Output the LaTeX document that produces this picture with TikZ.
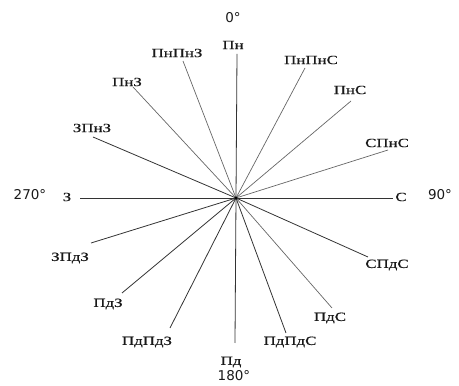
\documentclass[tikz,border=0pt]{standalone}
\usepackage{fontspec}
\newfontfamily\lblfont[FakeStretch=1.35,FakeBold=0.6]{Liberation Serif}
\newfontfamily\degfont{DejaVu Sans}
\begin{document}
\begin{tikzpicture}[x=1pt,y=1pt,
  ray/.style={line width=0.8pt, draw=black!80},
  rayl/.style={line width=0.7pt, draw=black!60},
  lab/.style={font=\lblfont\fontsize{12.5}{12.5}\selectfont, inner sep=0pt, text=black!90},
  num/.style={font=\degfont\fontsize{13.5}{13.5}\selectfont, inner sep=0pt, text=black!90}]
\useasboundingbox (0,0) rectangle (459,386);
\coordinate (c) at (236,188);
% ray ends
\coordinate (eN)   at (237,332);
\coordinate (eNNE) at (305,318);
\coordinate (eNE)  at (351,285);
\coordinate (eENE) at (388,236);
\coordinate (eE)   at (393,188);
\coordinate (eESE) at (368,129);
\coordinate (eSE)  at (332,78);
\coordinate (eSSE) at (286,53);
\coordinate (eS)   at (235,43);
\coordinate (eSSW) at (170,58);
\coordinate (eSW)  at (122,93);
\coordinate (eWSW) at (91,143);
\coordinate (eW)   at (80,188);
\coordinate (eWNW) at (93,249);
\coordinate (eNW)  at (133,299);
\coordinate (eNNW) at (183,325);
% rays
\draw[ray]  (c) -- (eN);
\draw[rayl] (c) -- (eNNE);
\draw[rayl] (c) -- (eNE);
\draw[rayl] (c) -- (eENE);
\draw[ray]  (c) -- (eE);
\draw[ray]  (c) -- (eESE);
\draw[rayl] (c) -- (eSE);
\draw[ray]  (c) -- (eSSE);
\draw[ray]  (c) -- (eS);
\draw[ray]  (c) -- (eSSW);
\draw[ray]  (c) -- (eSW);
\draw[ray]  (c) -- (eWSW);
\draw[ray]  (c) -- (eW);
\draw[ray]  (c) -- (eWNW);
\draw[rayl] (c) -- (eNW);
\draw[rayl] (c) -- (eNNW);
\fill[black] (c) circle (1.5);
% labels
\node[lab] (lN)   at (233,341) {Пн};
\node[lab] (lNNE) at (311,326) {ПнПнС};
\node[lab] (lNE)  at (350,296) {ПнС};
\node[lab] (lENE) at (387,243) {СПнС};
\node[lab] (lE)   at (401,189) {С};
\node[lab] (lESE) at (387,121) {СПдС};
\node[lab] (lSE)  at (330,68)  {ПдС};
\node[lab] (lSSE) at (290,44)  {ПдПдС};
\node[lab] (lS)   at (231,24)  {Пд};
\node[lab] (lSSW) at (147,44)  {ПдПдЗ};
\node[lab] (lSW)  at (108,82)  {ПдЗ};
\node[lab] (lWSW) at (70,128)  {ЗПдЗ};
\node[lab] (lW)   at (67,189)  {З};
\node[lab] (lWNW) at (92,258)  {ЗПнЗ};
\node[lab] (lNW)  at (127,304) {ПнЗ};
\node[lab] (lNNW) at (177,333) {ПнПнЗ};
% degrees
\node[num] (d0)   at (233,368) {0°};
\node[num] (d90)  at (440,191) {90°};
\node[num] (d180) at (234,10)  {180°};
\node[num] (d270) at (30,191)  {270°};
\end{tikzpicture}
\end{document}
